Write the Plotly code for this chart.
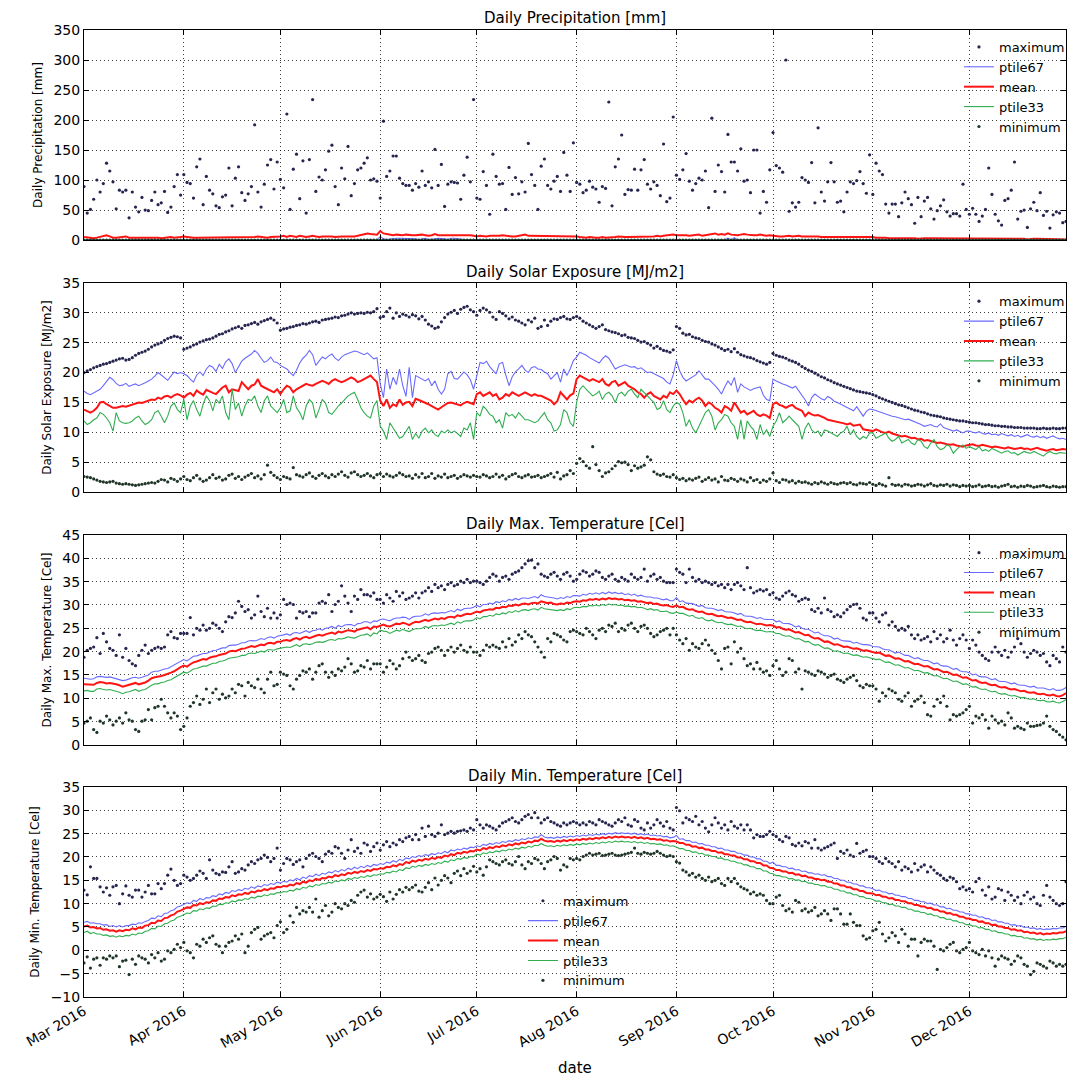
import pandas as pd
import plotly.graph_objects as go


def vals(s):
    return [float(v) for v in s.split()]


dates = pd.date_range("2016-03-01", "2016-12-31", freq="D")
month_ticks = pd.date_range("2016-03-01", "2016-12-01", freq="MS")
month_labels = [d.strftime("%b %Y") for d in month_ticks]

# ---------------- Daily Precipitation [mm] ----------------
prcp_max = vals("""
89 45 51 68 100 80 94 128 115 97 52 83 80 83 37 80 55 47 71 50 49 66 80 59 62 81 46 55 89 109 75
109 96 94 70 122 135 59 106 83 77 57 54 72 75 120 57 103 122 79 66 77 89 192 80 55 93 125 134 85 130
101 87 210 51 118 143 69 132 45 134 234 81 105 100 117 148 158 89 59 120 102 156 74 94 117 120 128 137 100 102 98
70 198 106 115 140 140 103 94 91 91 83 94 88 115 91 97 87 151 91 126 56 93 97 96 95 68 108 138 97 234
70 68 114 91 43 143 106 93 94 51 121 76 104 77 97 80 161 109 91 51 123 135 91 85 98 106 81 146 108 81 162
96 93 79 83 98 88 85 63 89 86 230 57 122 135 175 76 84 83 118 83 117 134 93 85 97 91 74 160 64 70 205
108 101 117 144 98 83 94 103 100 115 54 203 81 125 114 80 176 130 130 115 152 98 100 79 150 150 45 81 63 117
179 124 120 113 300 48 62 55 63 104 100 96 129 62 187 80 65 97 129 97 63 65 47 80 97 94 99 114 94 78 142
76 128 115 109 60 45 60 60 39 62 80 69 59 28 71 39 65 71 52 35 49 57 67 47 40 44 44 40 93 51
43 53 43 31 40 51 120 76 43 32 25 66 69 83 130 35 48 50 21 52 63 49 79 41 48 20 42 47 45 29 31
""")
prcp_p67 = vals("""
0 0 0 0 0 0 1 0 0 0 0 0 0 0 0 0 0 0 0 0 0 0 0 0 1 0 0 0 0 0 0
1 0 0 0 0 0 0 0 0 0 0 0 0 0 0 0 0 0 0 0 0 0 0 0 0 0 0 0 0 0
0 0 0 0 0 0 0 0 0 1 0 0 0 0 0 0 0 0 0 0 0 0 0 0 0 0 0 1 1 0 0
6 2 1 2 3 3 3 3 2 3 2 2 1 2 3 1 1 2 3 3 2 1 3 3 2 1 1 1 1 0
0 0 0 0 0 0 0 0 0 0 0 0 0 0 0 0 0 0 1 1 0 0 0 0 0 0 0 0 0 0 0
0 0 0 0 0 0 0 0 0 0 0 0 0 0 0 0 0 0 0 0 0 0 0 0 0 0 0 0 0 0 0
0 0 0 0 0 0 0 0 0 0 0 0 0 0 0 0 3 0 4 0 0 0 0 0 0 0 0 0 0 0
0 0 0 0 0 0 0 0 0 0 0 0 0 0 0 0 0 0 0 0 0 0 0 0 0 0 0 0 0 0 0
0 0 0 0 0 0 0 0 0 0 0 0 0 0 0 0 0 0 0 0 0 0 0 0 0 0 0 0 0 0
0 0 0 0 0 0 0 0 0 0 0 0 0 0 0 0 0 0 0 0 0 0 0 0 0 0 0 0 0 0 0
""")
prcp_mean = vals("""
5 4 4 3 4 5 6 8 6 4 4 5 5 6 4 4 4 5 5 4 4 4 5 4 3 4 4 5 4 4 5
6 5 5 4 4 4 4 4 4 5 4 4 4 5 5 4 4 4 5 5 4 4 5 6 5 4 4 5 5 6
6 7 5 7 6 5 7 6 5 6 7 6 5 6 6 7 6 5 6 6 6 6 5 6 7 8 10 11 10 9 9
15 11 10 9 8 9 8 8 9 8 8 8 9 9 8 7 8 10 8 8 8 9 8 8 8 9 8 8 8 7
6 7 6 6 7 7 6 7 8 7 7 6 6 7 7 9 7 7 7 6 7 6 6 6 7 7 7 7 6 6 7
6 5 4 4 5 4 4 4 5 4 4 5 5 6 5 5 5 5 5 6 6 6 6 5 6 7 6 7 8 9 9
8 8 9 8 7 8 8 9 7 8 8 10 11 9 10 9 11 9 8 8 9 10 9 8 8 8 9 8 7 8
7 7 6 6 7 7 6 7 7 6 6 7 6 6 6 5 5 6 6 5 6 5 6 6 5 6 5 6 5 6 5
5 4 4 5 4 3 3 4 3 3 3 3 3 3 2 3 3 3 3 2 2 3 3 3 2 2 2 2 3 3
3 2 2 2 2 2 2 2 2 2 2 2 2 2 2 2 2 2 1 2 2 2 2 2 2 1 2 2 2 1 1
""")
prcp_p33 = vals("""
0 0 0 0 0 0 0 0 0 0 0 0 0 0 0 0 0 0 0 0 0 0 0 0 0 0 0 0 0 0 0
0 0 0 0 0 0 0 0 0 0 0 0 0 0 0 0 0 0 0 0 0 0 0 0 0 0 0 0 0 0
0 0 0 0 0 0 0 0 0 0 0 0 0 0 0 0 0 0 0 0 0 0 0 0 0 0 0 0 0 0 0
0 0 0 0 0 0 0 0 0 0 0 0 0 0 0 0 0 0 0 0 0 0 0 0 0 0 0 0 0 0
0 0 0 0 0 0 0 0 0 0 0 0 0 0 0 0 0 0 0 0 0 0 0 0 0 0 0 0 0 0 0
0 0 0 0 0 0 0 0 0 0 0 0 0 0 0 0 0 0 0 0 0 0 0 0 0 0 0 0 0 0 0
0 0 0 0 0 0 0 0 0 0 0 0 0 0 0 0 0 0 0 0 0 0 0 0 0 0 0 0 0 0
0 0 0 0 0 0 0 0 0 0 0 0 0 0 0 0 0 0 0 0 0 0 0 0 0 0 0 0 0 0 0
0 0 0 0 0 0 0 0 0 0 0 0 0 0 0 0 0 0 0 0 0 0 0 0 0 0 0 0 0 0
0 0 0 0 0 0 0 0 0 0 0 0 0 0 0 0 0 0 0 0 0 0 0 0 0 0 0 0 0 0 0
""")
prcp_min = vals("""
0 0 0 0 0 0 0 0 0 0 0 0 0 0 0 0 0 0 0 0 0 0 0 0 0 0 0 0 0 0 0
0 0 0 0 0 0 0 0 0 0 0 0 0 0 0 0 0 0 0 0 0 0 0 0 0 0 0 0 0 0
0 0 0 0 0 0 0 0 0 0 0 0 0 0 0 0 0 0 0 0 0 0 0 0 0 0 0 0 0 0 0
0 0 0 0 0 0 0 0 0 0 0 0 0 0 0 0 0 0 0 0 0 0 0 0 0 0 0 0 0 0
0 0 0 0 0 0 0 0 0 0 0 0 0 0 0 0 0 0 0 0 0 0 0 0 0 0 0 0 0 0 0
0 0 0 0 0 0 0 0 0 0 0 0 0 0 0 0 0 0 0 0 0 0 0 0 0 0 0 0 0 0 0
0 0 0 0 0 0 0 0 0 0 0 0 0 0 0 0 0 0 0 0 0 0 0 0 0 0 0 0 0 0
0 0 0 0 0 0 0 0 0 0 0 0 0 0 0 0 0 0 0 0 0 0 0 0 0 0 0 0 0 0 0
0 0 0 0 0 0 0 0 0 0 0 0 0 0 0 0 0 0 0 0 0 0 0 0 0 0 0 0 0 0
0 0 0 0 0 0 0 0 0 0 0 0 0 0 0 0 0 0 0 0 0 0 0 0 0 0 0 0 0 0 0
""")

# ---------------- Daily Solar Exposure [MJ/m2] ----------------
solar_max = vals("""
20.0 20.3 20.5 20.8 21.0 21.2 21.4 21.5 21.7 21.9 22.1 22.3 22.4 22.1 22.2 22.5 22.9 23.2 23.4 23.6 23.9 24.3 24.6 24.8 25.0 25.4 25.7 25.9 26.1 26.0 25.8
23.9 24.1 24.3 24.6 24.8 25.1 25.3 25.5 25.6 25.8 26.1 26.4 26.5 26.8 27.0 27.3 27.5 27.7 27.4 27.9 28.0 28.2 28.4 28.1 28.5 28.7 28.9 29.1 28.8 28.3
27.1 27.3 27.4 27.6 27.7 27.9 28.0 28.2 28.1 28.3 28.5 28.6 28.4 28.8 28.9 29.0 29.1 29.3 29.2 29.5 29.6 29.8 30.0 29.8 29.9 30.0 29.9 30.1 30.0 30.2 30.7
29.2 29.4 30.2 30.8 29.1 30.0 29.4 29.8 29.6 29.3 29.7 29.5 29.0 29.4 28.8 28.1 27.8 27.4 27.6 28.5 29.2 29.8 30.1 30.4 29.9 30.6 30.9 31.1 30.5 30.2
29.6 30.4 30.8 30.5 30.1 29.3 28.9 30.2 29.9 29.5 29.0 29.3 28.8 28.6 28.3 28.0 28.8 28.5 29.1 27.4 27.7 28.8 27.9 28.6 29.0 28.9 29.2 29.4 29.0 28.9 29.2
29.4 29.1 28.6 28.3 28.0 27.7 27.4 27.7 28.0 27.2 27.0 26.8 26.7 26.5 26.2 26.3 25.9 25.8 25.7 25.4 25.1 25.2 24.9 24.6 24.1 24.4 24.0 23.7 23.6 23.4 23.8
27.7 27.4 26.6 26.3 26.4 26.0 25.8 25.7 25.4 25.2 25.1 24.8 24.6 24.3 24.0 23.7 23.9 23.5 24.0 23.4 23.0 22.8 22.6 22.5 22.3 22.0 21.8 21.6 21.4 21.7
23.2 22.9 22.7 22.6 22.4 22.1 21.9 21.7 21.4 21.0 20.7 20.4 20.2 19.9 19.6 19.3 19.1 18.8 18.6 18.3 18.1 17.9 17.7 17.5 17.3 17.1 16.9 16.8 16.7 16.6 16.5
16.3 16.1 15.8 15.6 15.4 15.2 15.0 14.8 14.6 14.5 14.3 14.1 13.9 13.7 13.6 13.4 13.3 13.1 12.9 12.8 12.7 12.6 12.4 12.3 12.2 12.1 12.0 11.9 11.9 11.8
11.7 11.6 11.6 11.5 11.4 11.3 11.3 11.2 11.1 11.1 11.0 11.0 10.9 10.9 10.8 10.8 10.8 10.7 10.7 10.7 10.7 10.6 10.6 10.7 10.6 10.6 10.7 10.6 10.6 10.7 10.7
""")
solar_p67 = vals("""
16.9 16.5 16.3 16.6 16.9 17.2 17.8 18.6 19.2 18.8 18.2 17.8 17.9 18.2 17.7 17.9 18.1 17.8 18.0 18.3 18.6 18.9 19.4 20.0 19.6 19.2 18.7 19.4 20.1 19.8 20.0
19.8 19.5 18.9 18.4 19.6 20.1 19.5 20.6 21.2 20.9 20.2 21.4 20.7 21.8 22.3 21.5 20.0 21.0 21.9 22.4 22.8 23.1 23.7 23.2 22.4 21.7 22.0 22.6 21.8 21.7
21.2 20.9 20.6 20.0 19.5 20.4 21.6 22.4 22.9 23.7 23.0 21.2 22.0 22.6 22.3 22.8 23.1 22.4 22.0 22.6 23.0 23.2 23.4 23.6 23.5 23.2 23.0 23.3 22.8 22.3 22.5
18.1 15.8 20.6 17.2 19.2 18.0 20.6 17.8 16.0 20.9 15.8 19.5 19.2 18.9 18.6 19.0 17.8 18.6 17.2 16.4 17.2 19.8 20.2 19.0 18.9 19.5 20.1 19.6 18.8 17.2
19.5 21.7 21.5 21.9 21.0 20.3 19.8 21.5 21.7 19.6 17.8 19.3 20.1 20.6 21.2 20.4 20.0 20.8 21.0 20.6 20.5 20.1 19.8 18.9 19.5 20.0 18.4 20.6 19.5 20.6 22.0
22.6 23.4 23.2 22.9 22.5 22.2 22.0 21.6 22.3 22.8 22.4 21.6 20.6 20.9 21.1 21.3 21.1 20.9 21.0 20.6 20.8 20.4 20.0 20.1 19.8 19.5 19.3 19.0 18.4 18.1 19.6
22.0 20.3 19.2 18.6 18.9 19.3 19.6 20.3 19.5 18.9 18.9 18.4 17.8 17.2 16.4 17.6 18.6 17.9 19.2 16.7 18.1 17.6 17.3 17.0 17.3 17.4 17.6 16.2 15.5 15.3
18.9 18.6 18.3 18.1 17.9 17.6 17.4 17.7 17.0 16.2 15.4 14.4 15.8 16.4 16.0 15.6 15.4 16.0 15.7 15.2 15.0 14.7 14.4 14.1 13.9 13.6 14.3 13.4 12.7 13.5 13.9
13.8 13.6 13.5 13.3 13.1 12.8 12.7 12.6 12.4 12.3 12.1 12.2 12.0 11.8 11.6 11.3 11.0 11.2 11.3 11.0 10.9 11.4 10.8 10.6 10.4 10.2 10.4 10.1 9.9 10.2
10.2 10.0 9.9 10.1 9.8 9.7 9.9 9.6 9.7 9.5 9.8 9.6 9.4 9.6 9.3 9.5 9.2 9.4 9.6 9.3 9.2 9.4 9.1 9.3 9.0 9.2 9.4 9.1 8.9 9.0 8.8
""")
solar_mean = vals("""
13.8 13.6 13.3 13.6 14.1 15.0 15.1 14.7 14.4 14.1 14.1 14.2 14.4 14.3 14.5 14.7 14.8 15.0 14.9 15.1 15.3 15.5 15.4 15.8 15.6 16.0 16.1 15.8 16.2 16.4 16.2
15.8 16.3 16.6 16.1 17.0 16.6 16.3 17.1 16.8 16.6 16.4 16.9 17.5 17.8 16.7 17.2 17.1 16.9 18.4 17.8 17.2 17.8 18.0 18.9 17.8 17.5 17.2 16.9 16.7 17.2
16.4 17.2 17.8 17.5 16.7 17.2 17.5 17.8 18.1 17.9 17.8 18.1 18.4 18.6 18.4 18.1 18.6 18.9 18.6 18.4 18.6 18.9 19.2 18.9 18.4 18.6 18.9 19.2 19.5 18.9 18.4
15.3 14.4 15.5 14.1 14.7 14.4 15.5 14.6 15.0 15.1 14.4 15.6 15.4 15.2 15.0 14.7 14.4 14.1 13.8 14.2 14.6 14.9 15.0 14.8 14.7 14.5 14.9 15.1 14.9 14.7
16.4 16.7 16.1 16.4 16.7 16.1 16.4 15.5 15.8 16.4 16.1 16.7 16.4 16.1 16.4 16.7 16.4 16.1 16.4 16.1 16.1 15.8 15.5 15.3 14.7 15.2 16.7 16.0 15.5 16.2 16.5
18.9 19.5 19.2 18.9 18.6 18.9 18.6 18.4 18.9 18.1 17.8 18.4 18.6 17.8 18.1 18.4 17.8 17.5 17.2 16.7 16.4 15.8 16.4 16.7 16.1 15.8 15.5 16.1 15.8 16.7 16.4
17.0 16.4 15.5 14.7 15.3 15.0 15.5 15.8 15.3 14.4 15.0 14.7 14.1 13.8 13.3 14.4 14.1 13.6 15.0 14.1 13.3 13.6 13.0 13.3 13.6 13.0 12.7 13.0 12.8 12.4
14.7 15.0 14.6 14.4 14.1 14.4 14.6 14.1 13.8 13.6 12.7 13.3 13.0 12.8 12.9 12.7 12.4 12.1 12.0 11.9 11.7 11.6 11.5 11.3 11.5 11.1 11.2 11.3 10.5 10.4 10.2
10.2 10.5 10.2 10.0 9.9 10.1 9.8 9.6 9.5 9.3 9.4 9.2 9.0 9.1 8.8 8.9 8.6 8.7 8.5 8.4 8.2 8.3 8.1 8.0 7.9 8.0 7.8 7.7 7.6 7.8
7.9 8.0 7.8 7.7 7.9 7.8 7.6 7.5 7.6 7.5 7.4 7.3 7.5 7.4 7.2 7.3 7.4 7.2 7.3 7.1 7.2 7.4 7.2 7.1 6.9 7.1 7.2 7.0 7.1 7.2 7.1
""")
solar_p33 = vals("""
11.9 11.3 11.6 12.1 12.4 13.3 13.0 12.4 11.6 10.2 13.3 11.9 11.6 11.5 11.6 11.9 12.4 12.7 11.9 11.3 11.6 12.1 13.3 13.6 12.7 11.6 12.7 14.4 14.9 13.8 13.3
15.5 12.1 14.4 15.3 13.8 12.7 14.7 16.1 15.3 13.6 15.5 14.9 16.1 13.3 12.1 17.2 13.8 14.9 12.7 14.4 15.5 15.3 16.1 14.4 13.3 15.3 16.1 14.4 13.8 13.3
14.1 15.5 13.3 13.6 16.1 14.1 13.3 12.1 14.4 15.5 14.9 12.4 13.8 15.5 14.9 13.3 13.0 13.8 14.4 14.9 15.5 16.1 16.4 16.7 15.5 14.1 13.3 12.7 12.4 14.4 15.3
11.0 10.2 8.8 11.6 10.7 9.9 9.0 9.3 10.2 11.0 8.8 9.8 9.0 10.2 10.7 9.9 10.4 9.6 9.3 10.2 9.9 10.4 9.9 10.2 9.8 9.3 10.7 10.4 11.6 8.8
13.3 12.7 14.4 13.8 13.0 12.7 11.6 12.1 10.7 13.3 12.7 13.0 12.4 13.3 12.7 12.1 12.1 11.9 11.6 11.9 12.7 13.3 12.1 11.6 10.2 10.4 11.3 13.8 13.3 11.6 11.0
15.0 17.2 17.8 17.2 16.7 16.1 16.4 16.9 15.5 16.4 16.7 16.1 15.0 16.4 16.7 16.1 16.9 17.2 16.4 15.8 17.2 16.7 16.1 15.5 15.0 13.8 14.1 15.3 13.8 13.3 14.4
15.0 14.7 13.3 11.0 12.1 10.7 9.9 11.0 12.1 13.3 13.8 12.7 10.4 11.6 12.1 13.0 12.7 11.6 11.0 8.8 12.1 8.8 11.9 11.0 10.4 8.8 11.3 9.6 10.4 9.3
11.0 11.9 13.3 11.6 12.1 12.7 12.1 11.6 11.0 8.8 10.7 11.6 10.4 9.9 10.2 9.3 10.4 10.2 9.9 9.6 9.3 9.9 10.2 11.0 9.6 10.4 9.3 8.8 9.3 9.0 9.9
9.9 9.0 9.3 9.6 9.9 9.0 8.5 8.8 9.3 8.2 8.5 8.8 8.2 7.9 8.8 8.5 7.6 7.3 8.2 8.8 7.6 7.1 7.3 7.9 7.6 6.5 7.1 7.6 7.9 7.3
7.6 7.3 7.1 7.6 6.9 7.1 6.8 7.3 7.1 6.8 6.5 6.8 6.9 6.5 6.6 6.2 6.5 6.8 6.6 6.5 6.8 6.5 6.2 6.0 6.5 6.8 6.5 6.4 6.6 6.5 6.5
""")
solar_min = vals("""
2.6 2.5 2.4 2.2 2.0 1.8 1.7 1.6 1.7 1.8 1.5 1.4 1.3 1.4 1.3 1.2 1.1 1.2 1.3 1.4 1.5 1.6 1.5 1.8 2.1 2.0 1.7 2.3 2.1 1.8 2.2
2.6 2.1 1.9 2.4 2.8 2.2 1.8 2.0 2.4 2.9 2.3 2.5 2.0 2.2 2.8 3.0 2.3 2.6 2.1 2.5 2.8 3.1 2.4 2.7 2.2 2.9 4.5 3.3 2.8 2.4
2.1 2.6 2.4 2.2 4.1 2.9 2.7 2.5 2.9 3.2 2.6 2.3 2.8 3.1 2.7 2.4 2.9 2.6 3.0 3.4 2.8 2.5 3.2 3.4 2.9 2.6 2.8 3.1 2.7 2.4 2.9
3.1 2.6 3.0 2.7 2.5 2.8 3.2 2.9 2.6 2.7 2.3 2.9 2.5 3.1 2.4 2.6 3.1 2.3 2.7 2.5 3.0 2.4 2.6 2.8 2.3 2.6 2.9 2.7 2.5 2.8
2.6 2.5 2.9 2.7 2.4 2.6 3.0 2.5 2.8 2.2 2.6 2.9 3.1 2.6 2.4 2.7 2.9 2.5 2.6 2.8 2.4 2.6 2.8 3.1 2.5 3.3 2.2 2.7 2.9 3.6 3.1
4.8 5.6 5.1 4.4 4.0 7.6 4.6 3.6 2.6 3.2 3.4 3.9 4.4 5.1 4.9 5.0 4.6 3.6 4.4 4.0 4.2 4.5 5.9 5.4 3.4 3.0 2.8 3.0 2.6 2.5 2.9
2.4 2.1 2.3 1.9 2.2 2.0 2.3 2.5 1.8 2.1 2.4 2.0 2.2 1.7 2.6 2.0 1.9 2.3 2.1 1.8 2.2 2.0 1.7 2.4 1.9 2.1 1.6 2.0 1.8 2.2
3.2 1.9 1.6 2.1 2.0 1.7 1.9 1.5 1.8 1.6 1.7 1.5 1.3 1.6 1.4 1.7 1.5 1.3 1.6 1.4 1.3 1.5 1.6 1.4 1.6 1.3 1.2 1.5 1.4 1.3 1.6
1.3 1.1 1.4 1.2 1.0 2.4 1.3 1.1 1.2 1.0 1.3 1.2 1.0 1.1 1.3 1.2 1.0 1.2 1.4 1.1 1.0 1.2 1.1 1.3 1.0 1.2 1.1 0.9 1.1 1.0
1.1 0.9 1.0 1.2 0.9 1.0 1.1 0.9 1.0 0.8 1.0 1.1 1.3 0.9 1.0 0.8 1.0 0.9 1.1 1.0 0.8 0.9 1.0 1.1 0.9 0.8 1.0 0.9 0.8 0.9 0.9
""")

# ---------------- Daily Max. Temperature [Cel] ----------------
tmax_max = vals("""
18.8 20.3 20.7 21.0 23.0 19.6 23.9 22.1 20.7 20.3 19.2 23.6 18.8 20.7 18.1 17.4 17.0 19.2 20.3 21.4 19.6 20.3 20.7 21.0 20.7 21.0 23.6 24.3 23.0 22.8 23.9
23.9 23.9 27.3 23.6 25.0 24.6 25.7 24.6 25.0 26.1 25.7 25.0 24.3 26.4 27.5 27.3 28.3 30.8 29.7 28.6 29.0 27.2 27.9 31.9 28.6 27.5 29.3 27.2 28.3 27.2
27.9 31.2 30.1 30.4 30.1 27.2 28.6 28.3 28.6 27.5 28.3 28.3 30.4 30.8 30.4 32.2 28.6 30.1 30.8 34.1 31.9 30.4 28.6 31.9 31.2 33.3 32.2 32.2 31.9 32.6 31.2
31.2 30.4 32.2 31.5 30.8 32.9 31.9 32.6 31.2 31.5 31.9 32.6 31.5 32.6 33.0 33.7 32.9 34.4 33.7 34.1 33.3 34.4 34.8 34.1 34.4 35.1 34.8 35.5 34.8 35.1
35.1 34.8 34.4 35.1 35.9 36.6 36.2 35.1 35.9 36.2 35.5 36.6 37.0 37.3 38.0 38.8 39.5 39.6 38.0 38.8 36.6 36.2 35.9 36.6 37.0 36.2 35.5 36.6 37.0 36.2 35.1
35.5 36.6 37.3 37.0 36.2 36.6 37.3 37.0 35.9 35.5 36.2 36.6 35.5 35.1 35.9 35.5 35.1 36.6 35.9 35.5 35.9 37.7 35.1 36.2 36.6 35.5 35.9 35.1 34.8 34.8 34.8
37.7 37.0 36.6 34.8 37.7 35.9 35.1 35.5 34.8 35.1 34.8 34.4 34.8 34.1 34.4 33.7 34.4 33.3 34.4 34.8 34.1 33.3 38.0 33.7 32.6 33.0 33.3 33.0 33.3 32.2
32.6 31.5 31.2 31.9 32.6 33.0 32.2 31.9 30.8 31.2 31.5 31.2 29.0 28.6 29.3 28.3 31.5 29.0 28.6 27.5 27.9 27.5 28.3 29.0 29.7 30.1 30.2 29.3 27.2 26.8 28.3
28.3 27.2 26.4 27.9 28.3 25.7 26.4 25.4 24.6 25.0 24.6 25.4 23.6 22.8 23.6 22.5 22.8 23.2 22.1 24.3 22.8 23.6 22.1 22.8 24.6 22.5 21.4 22.8 23.6 22.5
20.7 22.5 21.4 19.9 19.2 18.5 18.1 19.9 21.0 19.9 19.2 20.3 18.8 19.9 21.0 22.8 21.7 19.9 18.8 19.6 20.3 19.9 19.2 19.6 17.8 17.0 19.2 18.5 17.8 21.0 19.9
""")
tmax_p67 = vals("""
14.3 14.2 14.1 14.2 14.6 14.7 14.6 14.5 14.6 14.4 14.2 14.0 13.8 13.9 14.2 14.4 14.5 14.3 14.5 14.7 15.0 15.6 15.8 15.8 16.1 16.3 16.4 16.8 17.1 17.6 17.9
18.3 18.0 18.5 19.0 19.1 19.4 19.6 19.6 19.9 20.2 20.3 20.5 20.8 20.8 21.3 21.4 21.4 21.6 21.9 21.9 22.3 22.4 22.3 22.5 22.8 22.6 23.0 23.2 22.9 23.3
23.4 23.6 23.8 23.5 24.0 24.1 23.9 24.2 24.5 24.1 24.5 24.6 24.9 24.6 25.0 25.1 25.4 25.0 25.6 25.3 25.7 25.8 25.8 25.5 26.0 26.1 26.4 26.4 26.1 26.6 26.5
26.9 27.0 26.8 26.6 27.0 27.2 27.2 27.4 27.3 26.9 27.4 27.6 27.6 27.7 28.1 27.8 28.2 28.3 28.2 28.4 28.3 28.6 28.8 28.5 29.1 28.8 29.2 29.3 29.3 29.5
29.9 29.6 30.1 30.1 30.4 30.2 30.7 30.5 30.9 30.7 31.2 31.0 31.4 31.1 31.5 31.5 31.4 31.6 31.8 31.5 32.2 31.8 31.7 31.7 31.5 31.3 31.6 31.4 31.8 31.6 32.0
32.0 31.9 32.3 32.1 32.5 32.3 32.6 32.3 32.7 32.4 32.8 32.5 32.7 32.4 32.6 32.2 32.4 32.1 32.3 31.9 32.1 31.8 31.7 31.7 31.5 31.5 31.3 31.1 31.3 30.9 30.9
31.6 30.7 30.9 30.4 30.3 30.3 30.0 29.7 29.9 29.4 29.3 29.3 29.1 28.8 29.0 28.6 28.5 28.5 28.3 28.0 28.2 27.7 27.6 27.6 27.4 27.1 27.3 27.0 26.9 26.9
26.9 26.4 26.6 26.1 26.0 26.0 25.7 25.3 25.5 25.0 24.8 24.8 24.4 24.0 24.2 23.7 23.4 23.4 23.2 22.7 22.9 22.5 22.3 22.3 22.2 21.8 22.0 21.7 21.5 21.5 21.4
21.1 21.0 21.0 20.6 20.4 20.4 20.1 19.7 19.9 19.5 19.2 19.2 18.9 18.5 18.7 18.3 18.1 18.1 17.8 17.4 17.6 17.1 16.9 16.9 16.6 16.2 16.4 15.9 15.7 15.7
15.5 15.0 15.2 14.7 14.6 14.6 14.3 14.0 14.2 13.7 13.6 13.6 13.4 13.1 13.3 12.9 12.8 12.8 12.6 12.4 12.6 12.2 12.2 12.2 12.0 11.8 12.1 11.7 11.7 11.9 12.3
""")
tmax_mean = vals("""
13.0 13.0 12.9 12.9 13.3 13.5 13.4 13.2 13.3 13.2 13.0 12.8 12.5 12.7 12.9 13.1 13.3 13.0 13.2 13.4 13.8 14.3 14.5 14.6 14.8 15.0 15.2 15.5 15.8 16.3 16.7
17.0 16.8 17.3 17.7 17.9 18.1 18.4 18.3 18.7 18.9 19.0 19.3 19.5 19.6 20.0 20.2 20.1 20.4 20.6 20.7 21.0 21.2 21.0 21.3 21.5 21.4 21.8 21.9 21.7 22.1
22.1 22.4 22.5 22.3 22.7 22.9 22.6 23.0 23.2 22.9 23.2 23.4 23.6 23.4 23.7 23.9 24.1 23.8 24.3 24.1 24.4 24.6 24.5 24.3 24.7 24.9 25.1 25.2 24.8 25.4 25.3
25.6 25.8 25.5 25.4 25.7 26.0 25.9 26.2 26.0 25.7 26.1 26.4 26.3 26.5 26.8 26.6 26.9 27.1 26.9 27.2 27.0 27.4 27.5 27.3 27.8 27.6 27.9 28.1 28.0 28.3
28.6 28.4 28.8 28.9 29.1 29.0 29.4 29.3 29.6 29.5 29.9 29.8 30.1 29.9 30.2 30.3 30.1 30.4 30.5 30.3 30.8 30.6 30.4 30.5 30.2 30.1 30.3 30.2 30.5 30.4 30.7
30.8 30.7 31.0 30.9 31.2 31.1 31.3 31.1 31.4 31.2 31.5 31.3 31.4 31.2 31.3 31.0 31.1 30.9 31.0 30.7 30.8 30.6 30.4 30.5 30.2 30.3 30.0 29.9 30.0 29.7 29.6
29.9 29.5 29.6 29.2 29.0 29.1 28.7 28.5 28.6 28.2 28.0 28.1 27.8 27.6 27.7 27.4 27.2 27.3 27.0 26.8 26.9 26.5 26.3 26.4 26.1 25.9 26.0 25.8 25.6 25.7
25.6 25.2 25.3 24.9 24.7 24.8 24.4 24.1 24.2 23.8 23.5 23.6 23.1 22.8 22.9 22.5 22.1 22.2 21.9 21.5 21.6 21.3 21.0 21.1 20.9 20.6 20.7 20.5 20.2 20.3 20.1
19.9 19.7 19.8 19.4 19.1 19.2 18.8 18.5 18.6 18.3 17.9 18.0 17.6 17.3 17.4 17.1 16.8 16.9 16.5 16.2 16.3 15.9 15.6 15.7 15.3 15.0 15.1 14.7 14.4 14.5
14.2 13.8 13.9 13.5 13.3 13.4 13.0 12.8 12.9 12.5 12.3 12.4 12.1 11.9 12.0 11.7 11.5 11.6 11.3 11.2 11.3 11.0 10.9 11.0 10.7 10.6 10.8 10.5 10.4 10.7 11.1
""")
tmax_p33 = vals("""
11.6 11.7 11.5 11.5 12.0 12.1 11.9 11.8 11.9 11.7 11.6 11.3 11.0 11.3 11.4 11.6 11.9 11.5 11.8 11.9 12.4 12.8 13.1 13.1 13.4 13.5 13.8 14.0 14.4 14.8 15.3
15.6 15.4 15.8 16.3 16.4 16.7 16.9 16.9 17.2 17.5 17.5 17.9 18.0 18.2 18.6 18.7 18.7 18.9 19.2 19.2 19.6 19.7 19.6 19.8 20.1 19.9 20.4 20.4 20.3 20.6
20.7 20.9 21.0 20.9 21.2 21.5 21.1 21.6 21.7 21.5 21.7 22.0 22.1 22.0 22.2 22.5 22.6 22.4 22.8 22.7 22.9 23.2 23.0 22.9 23.2 23.5 23.6 23.8 23.3 24.0 23.8
24.6 24.4 24.3 23.9 24.3 24.6 24.4 24.8 24.5 24.3 24.7 24.9 24.9 25.0 25.4 25.1 25.5 25.6 25.5 25.7 25.6 25.9 26.1 25.8 26.4 26.1 26.5 26.6 26.6 26.8
27.3 27.0 27.5 27.5 27.8 27.6 28.1 27.9 28.3 28.1 28.6 28.4 28.8 28.5 28.9 29.0 28.8 29.1 29.2 28.9 29.5 29.2 29.1 29.1 28.9 28.8 29.0 28.8 29.2 29.0 29.4
29.5 29.4 29.7 29.6 29.9 29.8 30.0 29.8 30.1 29.9 30.2 30.0 30.1 29.9 30.0 29.7 29.8 29.6 29.7 29.4 29.5 29.3 29.0 29.2 28.9 29.0 28.6 28.6 28.7 28.3 28.2
28.5 28.2 28.2 27.9 27.6 27.8 27.3 27.1 27.3 26.8 26.6 26.8 26.4 26.2 26.3 26.0 25.8 25.9 25.6 25.4 25.5 25.1 24.9 25.0 24.7 24.5 24.6 24.4 24.2 24.3
24.2 23.9 23.9 23.5 23.3 23.4 23.0 22.7 22.8 22.4 22.1 22.2 21.7 21.4 21.5 21.1 20.7 20.8 20.5 20.1 20.2 19.9 19.6 19.7 19.5 19.2 19.3 19.1 18.8 18.9 18.7
18.5 18.3 18.4 18.0 17.7 17.8 17.4 17.1 17.2 16.9 16.5 16.6 16.2 15.9 16.0 15.7 15.4 15.5 15.1 14.8 14.9 14.5 14.2 14.3 13.9 13.6 13.7 13.3 13.0 13.1
12.8 12.4 12.5 12.1 11.9 12.0 11.6 11.4 11.5 11.1 10.9 11.0 10.7 10.5 10.6 10.3 10.1 10.2 9.9 9.8 9.9 9.6 9.5 9.6 9.3 9.2 9.4 9.1 9.0 9.3 9.7
""")
tmax_min = vals("""
4.7 5.1 5.8 3.3 2.7 5.1 4.7 6.2 5.4 4.3 5.1 5.8 4.7 6.9 5.4 5.1 3.3 2.9 5.1 5.4 7.6 5.4 8.0 8.3 9.8 8.3 6.9 5.8 6.9 6.2 3.3
4.0 5.8 8.3 9.1 10.5 8.7 9.8 12.0 9.1 11.2 12.0 9.8 10.9 10.1 10.5 12.0 11.2 13.0 12.7 10.5 13.4 12.7 12.3 14.1 12.0 11.2 14.1 15.6 12.7 13.0
15.6 15.2 14.9 12.7 12.0 14.1 14.9 15.9 15.6 16.3 14.1 15.6 17.0 17.4 15.6 14.5 15.6 14.9 16.3 15.9 16.7 18.5 17.4 15.6 15.9 17.0 16.7 18.1 16.3 17.4 17.4
17.4 15.6 16.7 18.1 17.4 16.3 17.0 18.5 19.9 18.8 18.1 18.5 19.2 18.1 17.7 19.6 19.9 20.7 21.0 20.3 19.2 20.3 21.0 19.9 20.7 21.4 20.3 19.9 21.0 19.9
19.9 19.2 20.3 21.4 21.0 21.4 21.0 20.7 22.1 21.0 22.8 21.4 22.1 23.6 22.8 24.3 23.6 23.2 22.1 21.0 19.9 18.8 22.8 22.1 23.9 23.6 23.2 22.5 22.1 24.3 24.6
24.3 23.9 23.6 25.0 24.3 23.6 22.8 24.6 25.0 24.3 25.7 25.4 26.1 24.3 25.0 24.6 25.7 26.1 25.0 24.3 25.4 25.7 25.0 23.9 23.2 23.6 24.3 24.6 25.0 23.6 25.0
23.6 22.5 21.7 22.8 20.3 21.7 21.0 20.7 21.7 22.5 21.4 20.3 19.6 18.1 16.3 20.7 21.0 17.4 22.1 19.9 20.7 18.5 17.0 17.4 16.3 17.7 16.3 15.6 15.9 14.9
17.0 18.1 16.3 14.9 15.6 18.5 18.1 15.6 16.3 12.0 15.9 15.6 15.2 14.9 15.9 15.6 15.2 14.5 14.9 15.2 14.1 13.8 13.4 14.1 14.5 14.9 13.8 12.7 12.3 13.0 12.7
12.7 12.0 9.4 11.2 10.5 12.0 11.6 11.2 9.8 9.4 10.5 11.2 8.3 9.4 9.8 10.5 9.1 6.5 6.2 8.3 9.8 9.1 10.5 8.3 5.4 6.5 6.2 6.5 6.9 7.6
8.3 4.7 6.2 5.8 6.5 5.4 3.6 6.2 5.4 4.7 5.1 4.3 6.9 5.8 3.6 4.0 3.6 3.3 4.7 4.0 4.0 4.2 4.3 4.7 6.2 4.0 3.3 2.9 2.2 1.7 1.1
""")

# ---------------- Daily Min. Temperature [Cel] ----------------
tmin_max = vals("""
12.9 11.9 17.9 15.4 15.4 13.6 12.5 13.4 11.8 13.6 13.9 10.0 12.1 13.8 11.8 11.4 12.9 12.9 11.4 12.5 13.9 12.1 12.1 14.3 13.2 14.3 16.1 17.4 15.0 13.9 14.3
16.1 15.7 15.0 15.4 16.1 17.0 16.5 15.4 19.4 17.2 16.5 16.2 16.8 16.7 17.9 19.0 16.5 16.8 17.5 17.2 18.3 19.0 18.6 19.4 19.7 20.4 19.9 19.0 19.7 21.9
17.2 18.6 19.7 19.4 18.4 19.0 19.4 17.9 19.7 20.4 20.8 20.1 19.7 19.0 20.6 21.2 20.8 22.2 21.9 20.8 19.7 21.5 23.7 21.2 21.9 20.8 23.0 22.6 21.2 22.2 23.0
21.5 22.6 23.3 22.2 23.0 22.6 23.7 23.3 24.1 24.4 23.7 24.8 23.7 26.2 24.4 26.6 24.8 24.4 25.1 26.9 24.8 25.1 25.5 25.1 25.5 25.6 25.8 25.5 26.2 25.8
28.0 26.9 26.2 26.9 26.6 26.2 25.8 26.6 27.3 27.6 28.0 28.4 27.6 27.3 28.0 28.7 29.1 28.4 29.5 28.4 27.3 28.0 28.4 27.6 27.3 26.9 26.6 27.3 26.9 27.3 27.6
27.3 26.9 27.3 26.9 27.6 27.3 26.9 28.0 27.6 27.3 26.9 26.6 27.3 28.0 27.6 28.4 26.9 26.6 28.0 27.6 26.2 25.8 27.3 26.2 26.9 28.0 27.3 26.6 27.6 26.2 25.8
30.6 29.9 27.3 28.4 28.0 27.6 28.7 26.9 27.6 26.2 25.4 26.9 28.4 27.3 26.2 26.9 25.8 27.6 26.6 26.2 26.9 25.8 26.9 25.8 24.1 24.8 24.4 24.4 24.8 25.5
24.8 24.4 23.7 23.3 24.4 24.1 22.7 22.4 23.0 22.4 23.3 23.0 21.9 23.7 21.9 21.5 21.9 22.2 22.6 23.0 19.7 21.2 20.8 21.5 20.4 20.1 22.9 20.8 21.2 21.5 20.1
20.1 19.7 19.0 18.6 19.7 19.0 18.6 17.9 19.0 17.2 17.9 17.5 16.8 18.6 17.2 17.9 18.3 16.8 17.9 17.2 16.5 16.1 15.4 15.0 15.7 15.4 14.7 13.2 13.6 12.9
13.2 12.5 14.7 15.4 12.9 11.8 13.6 11.0 11.4 13.2 12.9 10.7 12.5 11.8 10.7 11.4 10.0 11.8 12.5 11.0 11.4 10.0 9.6 11.8 13.9 11.4 10.7 10.0 9.6 10.0 14.7
""")
tmin_p67 = vals("""
6.0 6.2 5.8 5.9 5.7 5.7 5.4 5.5 5.1 5.3 5.0 5.3 5.0 5.3 5.3 5.6 5.5 5.9 5.8 6.2 6.4 6.9 6.8 7.4 7.2 7.9 8.0 8.5 8.7 9.3 9.5
9.8 10.2 10.0 10.7 10.5 11.1 10.8 11.3 11.2 11.7 11.5 12.1 11.9 12.4 12.2 12.8 12.6 13.0 12.8 13.3 13.1 13.6 13.3 13.8 13.6 14.1 13.9 14.3 14.1 14.6
14.4 14.8 14.6 15.1 14.9 15.4 15.1 15.7 15.4 16.0 15.8 16.3 16.0 16.5 16.3 16.8 16.6 17.1 16.8 17.3 17.0 17.6 17.3 17.8 17.5 18.0 17.7 18.2 17.9 18.4 18.2
18.6 18.4 18.9 18.7 19.2 18.9 19.5 19.2 19.8 19.6 20.1 19.9 20.3 20.1 20.5 20.3 20.7 20.5 20.9 20.7 21.2 20.9 21.5 21.3 21.7 21.5 21.9 21.7 22.1 22.0
22.4 22.2 22.7 22.5 22.9 22.7 23.1 22.9 23.3 23.1 23.5 23.3 23.7 23.5 23.9 23.7 24.1 23.9 24.3 24.2 24.8 24.3 24.1 24.2 24.0 24.3 24.1 24.4 24.2 24.5 24.3
24.6 24.4 24.7 24.5 24.8 24.6 24.9 24.7 25.0 24.8 25.1 24.9 25.2 25.0 25.2 25.0 25.1 24.9 25.1 24.8 25.0 24.7 24.9 24.6 24.7 24.5 24.6 24.3 24.4 24.1 24.2
24.6 23.8 23.9 23.5 23.5 23.1 23.2 22.8 22.9 22.5 22.5 22.2 22.2 21.8 21.9 21.5 21.5 21.2 21.2 20.8 20.8 20.4 20.4 20.0 20.0 19.6 19.6 19.1 19.1 18.6
18.9 18.2 18.2 17.9 17.9 17.5 17.6 17.2 17.3 16.9 17.0 16.6 16.6 16.3 16.4 16.1 16.2 15.8 15.8 15.4 15.4 15.0 15.0 14.6 14.6 14.2 14.2 13.8 13.8 13.4 13.4
13.2 12.8 12.9 12.5 12.5 12.1 12.2 11.8 11.8 11.5 11.5 11.1 11.1 10.7 10.7 10.4 10.4 10.0 10.1 9.7 9.7 9.3 9.3 8.9 9.0 8.6 8.6 8.2 8.2 7.8
7.8 7.5 7.5 7.1 7.2 6.8 6.8 6.4 6.5 6.1 6.1 5.8 5.8 5.4 5.5 5.2 5.3 4.9 5.0 4.7 4.8 4.5 4.7 4.4 4.6 4.5 4.7 4.6 4.8 4.8 5.1
""")
tmin_mean = vals("""
5.1 5.3 4.9 5.0 4.7 4.8 4.4 4.5 4.2 4.3 4.0 4.3 4.1 4.4 4.3 4.7 4.5 4.9 4.8 5.3 5.4 5.9 5.8 6.4 6.3 6.9 7.0 7.5 7.7 8.3 8.5
8.8 9.2 9.1 9.7 9.6 10.1 9.9 10.3 10.2 10.7 10.6 11.1 11.0 11.4 11.3 11.8 11.6 12.0 11.9 12.3 12.1 12.6 12.4 12.8 12.7 13.1 12.9 13.3 13.2 13.6
13.5 13.8 13.7 14.1 13.9 14.4 14.2 14.7 14.5 15.0 14.8 15.3 15.1 15.5 15.4 15.8 15.6 16.1 15.9 16.3 16.1 16.6 16.4 16.8 16.6 17.0 16.8 17.2 17.0 17.4 17.3
17.6 17.5 17.9 17.8 18.2 18.0 18.5 18.3 18.9 18.7 19.2 19.0 19.4 19.2 19.6 19.4 19.8 19.6 20.0 19.8 20.3 20.1 20.6 20.4 20.9 20.7 21.1 20.9 21.3 21.2
21.6 21.4 21.9 21.7 22.1 21.9 22.3 22.1 22.5 22.3 22.7 22.5 22.9 22.7 23.1 22.9 23.3 23.1 23.5 23.4 23.9 23.5 23.3 23.4 23.2 23.5 23.3 23.6 23.4 23.7 23.5
23.8 23.6 23.9 23.7 24.0 23.8 24.1 23.9 24.2 24.0 24.3 24.1 24.4 24.2 24.4 24.2 24.3 24.1 24.3 24.0 24.2 23.9 24.1 23.8 23.9 23.7 23.8 23.5 23.6 23.3 23.4
23.3 23.0 23.0 22.6 22.6 22.2 22.3 21.9 22.0 21.6 21.6 21.3 21.3 20.9 21.0 20.6 20.6 20.3 20.3 19.9 19.9 19.5 19.5 19.1 19.1 18.7 18.7 18.2 18.2 17.7
17.6 17.2 17.2 16.9 16.9 16.5 16.6 16.2 16.3 15.9 16.0 15.6 15.6 15.3 15.3 15.0 15.1 14.7 14.7 14.3 14.3 13.9 13.9 13.5 13.5 13.1 13.1 12.7 12.7 12.3 12.3
12.2 11.8 11.9 11.5 11.5 11.1 11.2 10.8 10.8 10.5 10.5 10.1 10.1 9.7 9.7 9.4 9.4 9.0 9.1 8.7 8.7 8.3 8.3 7.9 8.0 7.6 7.6 7.2 7.2 6.8
6.8 6.5 6.5 6.1 6.2 5.8 5.8 5.4 5.5 5.1 5.1 4.8 4.8 4.4 4.5 4.2 4.3 3.9 4.0 3.7 3.8 3.5 3.7 3.4 3.6 3.5 3.7 3.6 3.8 3.8 4.1
""")
tmin_p33 = vals("""
3.8 4.1 3.6 3.8 3.5 3.5 3.2 3.3 3.0 3.1 2.8 3.1 2.9 3.2 3.1 3.5 3.3 3.7 3.6 4.1 4.2 4.7 4.6 5.2 5.1 5.7 5.8 6.3 6.5 7.1 7.3
7.6 8.0 7.9 8.5 8.4 8.9 8.7 9.1 9.0 9.5 9.4 9.9 9.8 10.2 10.1 10.6 10.4 10.8 10.7 11.1 10.9 11.4 11.2 11.6 11.5 11.9 11.7 12.1 12.0 12.4
12.3 12.6 12.5 12.9 12.7 13.2 13.0 13.5 13.3 13.8 13.6 14.1 13.9 14.3 14.2 14.6 14.4 14.9 14.7 15.1 14.9 15.4 15.2 15.6 15.4 15.8 15.6 16.0 15.8 16.2 16.1
16.4 16.3 16.7 16.6 17.0 16.8 17.3 17.1 17.7 17.5 18.0 17.8 18.2 18.0 18.4 18.2 18.6 18.4 18.8 18.6 19.1 18.9 19.4 19.2 19.7 19.5 19.9 19.7 20.1 20.0
20.6 20.4 20.9 20.7 21.1 20.9 21.3 21.1 21.5 21.3 21.7 21.5 21.9 21.7 22.1 21.9 22.3 22.1 22.5 22.4 22.9 22.5 22.3 22.4 22.2 22.5 22.3 22.6 22.4 22.7 22.5
22.8 22.6 22.9 22.7 23.0 22.8 23.1 22.9 23.2 23.0 23.3 23.1 23.4 23.2 23.4 23.2 23.3 23.1 23.3 23.0 23.2 22.9 23.1 22.8 22.9 22.7 22.8 22.5 22.6 22.3 22.4
22.1 21.8 21.8 21.4 21.4 21.0 21.1 20.7 20.8 20.4 20.4 20.1 20.1 19.7 19.8 19.4 19.4 19.1 19.1 18.7 18.7 18.3 18.3 17.9 17.9 17.5 17.5 17.0 17.0 16.5
16.4 16.0 16.0 15.7 15.7 15.3 15.4 15.0 15.1 14.7 14.8 14.4 14.4 14.1 14.1 13.8 13.9 13.5 13.5 13.1 13.1 12.7 12.7 12.3 12.3 11.9 11.9 11.5 11.5 11.1 11.1
10.9 10.5 10.6 10.2 10.2 9.8 9.9 9.5 9.5 9.2 9.2 8.8 8.8 8.4 8.4 8.1 8.1 7.7 7.8 7.4 7.4 7.0 7.0 6.6 6.7 6.3 6.3 5.9 5.9 5.5
5.5 5.2 5.2 4.8 4.9 4.5 4.5 4.1 4.2 3.8 3.8 3.5 3.5 3.1 3.2 2.9 3.0 2.6 2.7 2.4 2.5 2.2 2.4 2.1 2.3 2.2 2.4 2.3 2.5 2.5 2.8
""")
tmin_min = vals("""
-2.7 -1.4 -3.8 -1.9 -1.6 -3.2 -1.6 -1.9 -1.2 -1.6 -1.2 -3.5 -2.3 -2.1 -5.2 -1.9 -3.0 -1.2 -1.6 -1.9 -2.7 -0.9 -1.6 -0.5 -2.3 -1.9 -0.1 -0.5 0.2 1.3 0.6
1.7 -0.1 -0.5 -1.6 1.3 0.9 2.4 1.7 2.7 3.1 1.3 0.9 -0.5 0.9 1.7 2.0 3.1 2.4 3.5 -0.5 0.9 3.8 4.5 4.9 2.4 3.1 3.5 3.8 2.7 5.3
6.1 3.8 4.5 7.4 6.0 9.2 7.8 8.5 8.2 9.2 8.2 11.0 7.1 8.5 9.6 7.4 8.2 10.0 9.2 8.9 10.0 9.6 10.7 10.3 11.8 12.5 12.9 11.4 12.1 11.0 11.4
12.0 11.5 10.5 12.5 11.0 12.0 13.0 12.5 13.5 13.0 13.5 14.0 12.7 12.5 13.5 14.5 13.0 15.5 14.0 15.0 16.0 15.5 14.5 16.5 17.0 16.0 17.5 16.5 17.0 18.0
16.8 17.5 16.1 17.9 19.4 19.0 18.6 18.3 19.0 19.4 18.6 18.3 19.0 20.1 18.3 17.5 19.0 18.6 19.7 19.4 18.6 17.5 19.0 19.4 20.1 19.7 17.2 18.3 17.9 19.7 19.4
19.7 19.4 20.1 20.4 20.8 20.4 20.6 20.8 20.3 20.4 20.6 20.8 20.4 20.3 20.4 20.6 20.8 21.0 21.9 20.8 20.6 21.0 20.8 20.6 20.8 21.2 20.8 20.4 20.1 20.3 20.1
19.0 18.7 17.2 16.8 16.1 16.5 15.7 16.1 15.4 15.0 15.7 14.7 15.0 15.4 14.3 13.9 15.4 14.7 15.4 14.3 13.6 13.2 12.9 12.1 12.5 11.8 12.1 11.8 10.7 10.0
10.0 11.4 11.8 9.6 8.5 8.9 8.2 10.7 10.3 8.5 8.9 8.2 8.5 9.2 7.4 7.8 8.5 7.8 6.4 8.9 8.9 7.8 5.6 5.6 7.8 6.0 5.3 5.3 3.1 2.4 2.7
4.2 4.5 6.0 3.5 2.0 2.7 3.8 3.1 1.7 4.5 3.5 0.9 2.4 2.4 -1.2 1.7 2.4 2.0 2.0 0.9 -4.1 0.2 -0.1 0.6 1.3 1.7 -0.1 -0.5 0.2 0.6
1.7 -0.1 -0.5 -0.9 0.2 -1.2 -0.1 -1.6 -3.4 -1.9 -1.2 -1.6 -1.9 -3.0 -2.3 -1.2 -1.6 -3.0 -3.4 -5.2 -4.5 -2.7 -3.0 -3.4 -3.8 -2.3 -2.7 -3.4 -3.0 -3.4 -3.0
""")

series_names = ["maximum", "ptile67", "mean", "ptile33", "minimum"]

panels = [
    ("Daily Precipitation [mm]", [prcp_max, prcp_p67, prcp_mean, prcp_p33, prcp_min], [0, 350], 50),
    ("Daily Solar Exposure [MJ/m2]", [solar_max, solar_p67, solar_mean, solar_p33, solar_min], [0, 35], 5),
    ("Daily Max. Temperature [Cel]", [tmax_max, tmax_p67, tmax_mean, tmax_p33, tmax_min], [0, 45], 5),
    ("Daily Min. Temperature [Cel]", [tmin_max, tmin_p67, tmin_mean, tmin_p33, tmin_min], [-10, 35], 5),
]

for title, sers, _, _ in panels:
    for nm, s in zip(series_names, sers):
        if len(s) != len(dates):
            raise ValueError(f"{title} {nm}: {len(s)} values")

MAX_C = "#25254f"
MIN_C = "#1f3528"
P67_C = "#6a6aff"
MEAN_C = "#ff1414"
P33_C = "#2fae50"

styles = {
    "maximum": dict(mode="markers", marker=dict(size=3.2, color=MAX_C)),
    "ptile67": dict(mode="lines", line=dict(color=P67_C, width=1.1)),
    "mean": dict(mode="lines", line=dict(color=MEAN_C, width=2)),
    "ptile33": dict(mode="lines", line=dict(color=P33_C, width=1.1)),
    "minimum": dict(mode="markers", marker=dict(size=3.2, color=MIN_C)),
}

FONT = "DejaVu Sans"
domains = [[0.7828, 1.0], [0.5222, 0.7384], [0.2606, 0.4778], [0.0, 0.2172]]
title_y = [1.0124, 0.7497, 0.4891, 0.2285]
legend_pos = [
    dict(x=0.891, y=0.998, xanchor="left", yanchor="top"),
    dict(x=0.891, y=0.735, xanchor="left", yanchor="top"),
    dict(x=0.891, y=0.475, xanchor="left", yanchor="top"),
    dict(x=0.447, y=0.115, xanchor="left", yanchor="top"),
]

fig = go.Figure()
layout = dict(
    width=1068, height=1077,
    margin=dict(l=84, r=2, t=30, b=80, autoexpand=False),
    paper_bgcolor="white", plot_bgcolor="white",
    font=dict(family=FONT, size=14, color="black"),
    showlegend=True,
)
annotations = []
for i, (title, sers, yr, step) in enumerate(panels):
    k = "" if i == 0 else str(i + 1)
    leg = "legend" if i == 0 else f"legend{i + 1}"
    for nm, s in zip(series_names, sers):
        fig.add_trace(go.Scatter(x=dates, y=s, name=nm, xaxis="x" + k, yaxis="y" + k,
                                 legend=leg, **styles[nm]))
    ticks = list(range(yr[0], yr[1] + 1, step))
    layout["xaxis" + k] = dict(
        domain=[0, 1], anchor="y" + k, range=["2016-03-01", "2016-12-31"],
        tickvals=list(month_ticks), ticktext=month_labels,
        showticklabels=(i == 3), tickangle=-30, tickfont=dict(size=14),
        ticks="inside", ticklen=5, tickcolor="black", automargin=False,
        showline=True, linecolor="black", linewidth=1, mirror="ticks",
        showgrid=True, gridcolor="rgba(0,0,0,0.75)", griddash="1px,3px", gridwidth=1,
        zeroline=False,
    )
    if i != 0:
        layout["xaxis" + k]["matches"] = "x"
    layout["yaxis" + k] = dict(
        domain=domains[i], anchor="x" + k, range=yr, tickvals=ticks,
        ticks="inside", ticklen=5, tickcolor="black", tickfont=dict(size=14),
        showline=True, linecolor="black", linewidth=1, mirror="ticks", automargin=False,
        showgrid=True, gridcolor="rgba(0,0,0,0.75)", griddash="1px,3px", gridwidth=1,
        zeroline=False,
        title=dict(text=title, font=dict(size=12), standoff=8),
    )
    layout[leg] = dict(
        **legend_pos[i], bgcolor="rgba(0,0,0,0)", borderwidth=0,
        font=dict(size=13, family=FONT), tracegroupgap=0,
    )
    annotations.append(dict(
        text=title, x=0.5, y=title_y[i], xref="paper", yref="paper",
        xanchor="center", yanchor="middle", showarrow=False, font=dict(size=15),
    ))
annotations.append(dict(
    text="date", x=0.5, y=-0.0734, xref="paper", yref="paper",
    xanchor="center", yanchor="middle", showarrow=False, font=dict(size=15),
))
layout["annotations"] = annotations
fig.update_layout(**layout)
fig.write_html(
    "out.html",
    config={"displayModeBar": False},
    post_script="document.body.style.margin='0';document.body.style.overflow='hidden';",
)
